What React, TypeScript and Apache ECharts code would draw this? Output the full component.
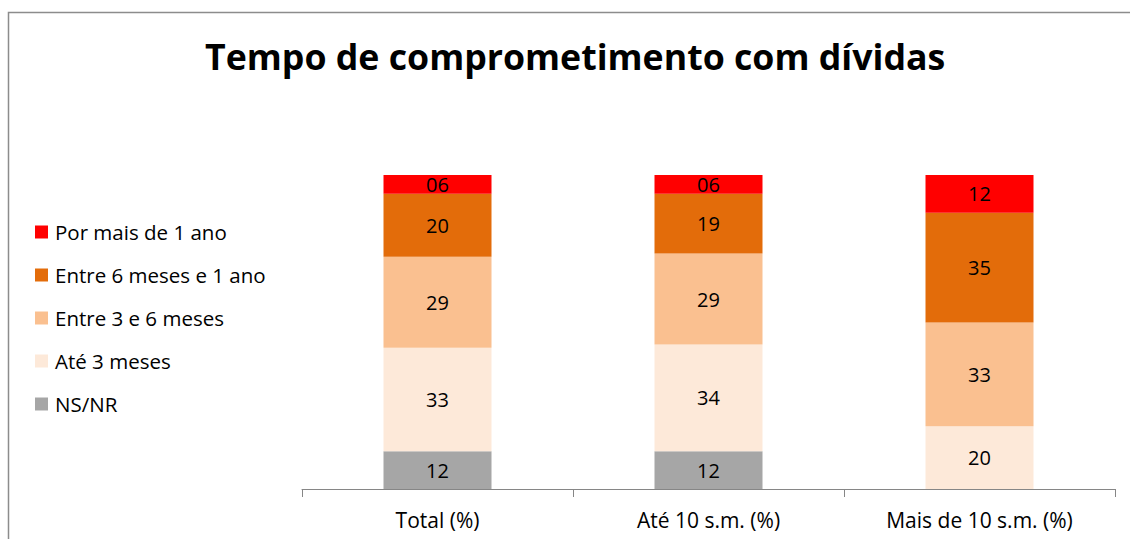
import React, { useEffect, useRef } from "react";
import * as echarts from "echarts";

const categories = ["Total (%)", "Até 10 s.m. (%)", "Mais de 10 s.m. (%)"];
const seriesNames = ["NS/NR", "Até 3 meses", "Entre 3 e 6 meses", "Entre 6 meses e 1 ano", "Por mais de 1 ano"];
const nsnr = [12, 12, null];
const ate3 = [33, 34, 20];
const entre3e6 = [29, 29, 33];
const entre6e1 = [20, 19, 35];
const maisDe1 = [6, 6, 12];
const colors = ["#A6A6A6", "#FDE9D9", "#FAC090", "#E36C0A", "#FF0000"];
const title = "Tempo de comprometimento com dívidas";

const FONT = "'Open Sans', Lato, sans-serif";

export default function App() {
  const ref = useRef<HTMLDivElement>(null);
  useEffect(() => {
    if (!ref.current) return;
    const chart = echarts.init(ref.current, null, { renderer: "svg" });
    const values = [nsnr, ate3, entre3e6, entre6e1, maisDe1];
    chart.setOption({
      animation: false,
      textStyle: { fontFamily: FONT },
      title: {
        text: title,
        left: 200,
        top: 33,
        textStyle: { fontFamily: FONT, fontSize: 35.7, fontWeight: "bold", color: "#000" },
      },
      graphic: [
        {
          type: "rect",
          shape: { x: 8.5, y: 12.5, width: 2000, height: 2000 },
          style: { fill: "none", stroke: "#8C8C8C", lineWidth: 1.5 },
          silent: true,
        },
      ],
      legend: {
        orient: "vertical",
        left: 30,
        top: 216,
        itemWidth: 13,
        itemHeight: 13,
        itemGap: 21,
        icon: "rect",
        data: seriesNames.slice().reverse(),
        textStyle: { fontFamily: FONT, fontSize: 20.5, lineHeight: 22, color: "#000", padding: [0, 0, 0, 2] },
      },
      grid: { left: 302, right: 15, top: 175, bottom: 50, containLabel: false },
      xAxis: {
        type: "category",
        data: categories,
        axisLine: { lineStyle: { color: "#868686", width: 1 } },
        axisTick: { show: true, length: 8, lineStyle: { color: "#868686" } },
        axisLabel: { fontFamily: FONT, fontSize: 21, color: "#000", margin: 20 },
      },
      yAxis: { type: "value", min: 0, max: 100, show: false },
      series: seriesNames.map((name, i) => ({
        name,
        type: "bar",
        stack: "total",
        barWidth: 108,
        data: values[i],
        itemStyle: { color: colors[i] },
        label: {
          show: true,
          position: "inside",
          color: "#000",
          fontFamily: FONT,
          fontSize: 20,
          formatter: (p: any) => (p.value == null ? "" : String(p.value).padStart(2, "0")),
        },
      })),
    });
    return () => chart.dispose();
  }, []);
  return (
    <div
      ref={ref}
      style={{ position: "absolute", left: 0, top: 0, width: 1130, height: 539, background: "#fff" }}
    />
  );
}
